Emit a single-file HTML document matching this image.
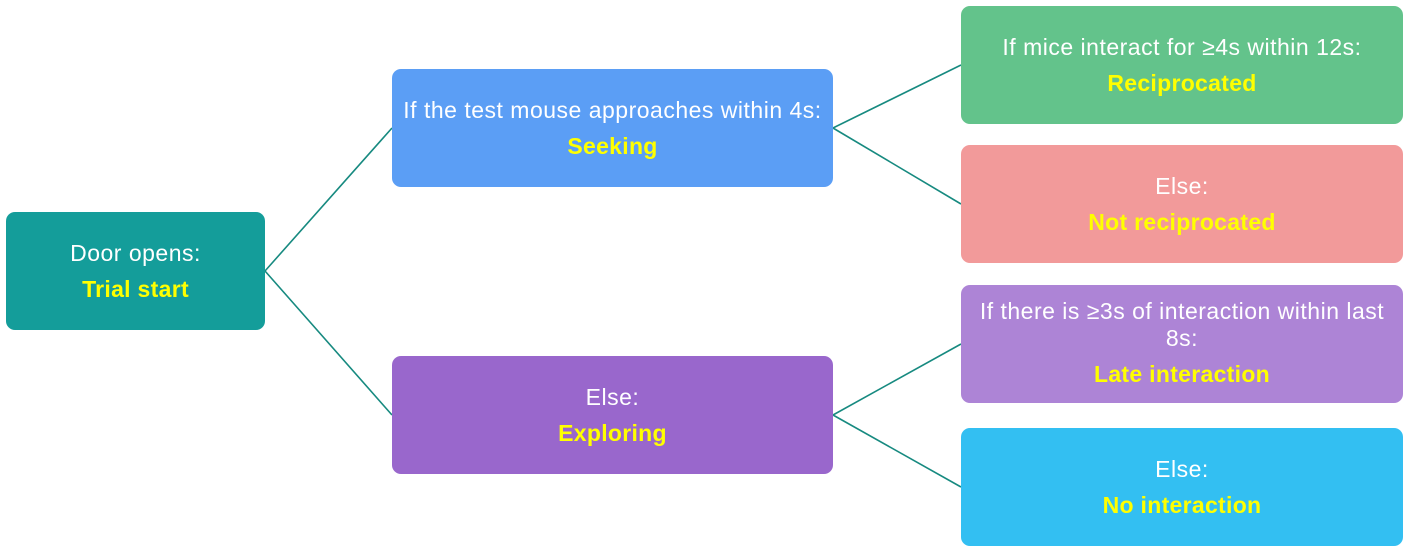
<!DOCTYPE html>
<html><head><style>
body{margin:0;width:1410px;height:553px;background:#fff;position:relative;overflow:hidden;font-family:"Liberation Sans",sans-serif}
.b{position:absolute;border-radius:9px;display:flex;flex-direction:column;justify-content:center;align-items:center;text-align:center;color:#fff;font-size:23px;letter-spacing:0.5px;line-height:27px;box-sizing:border-box;padding:0 12px 0}
.b .y{color:#ffff00;font-weight:bold;margin-top:9px;letter-spacing:0.3px}
svg{position:absolute;left:0;top:0}
</style></head><body>
<svg width="1410" height="553"><g stroke="#178a80" stroke-width="1.6" fill="none">
<path d="M265 271L392 128M265 271L392 415M833 128L961 65M833 128L961 204M833 415L961 344M833 415L961 487"/></g></svg>
<div class="b" style="left:6px;top:212px;width:259px;height:118px;background:#149d9a"><div>Door opens:</div><div class="y">Trial start</div></div>
<div class="b" style="left:392px;top:69px;width:441px;height:118px;background:#5b9ef5;padding:0 4px"><div>If the test mouse approaches within 4s:</div><div class="y">Seeking</div></div>
<div class="b" style="left:392px;top:356px;width:441px;height:118px;background:#9967cc"><div>Else:</div><div class="y">Exploring</div></div>
<div class="b" style="left:961px;top:6px;width:442px;height:118px;background:#63c38b"><div>If mice interact for ≥4s within 12s:</div><div class="y">Reciprocated</div></div>
<div class="b" style="left:961px;top:145px;width:442px;height:118px;background:#f29a9a"><div>Else:</div><div class="y">Not reciprocated</div></div>
<div class="b" style="left:961px;top:285px;width:442px;height:118px;background:#ad84d6;padding-bottom:3px"><div>If there is ≥3s of interaction within last<br>8s:</div><div class="y">Late interaction</div></div>
<div class="b" style="left:961px;top:428px;width:442px;height:118px;background:#33bff2"><div>Else:</div><div class="y">No interaction</div></div>
</body></html>
